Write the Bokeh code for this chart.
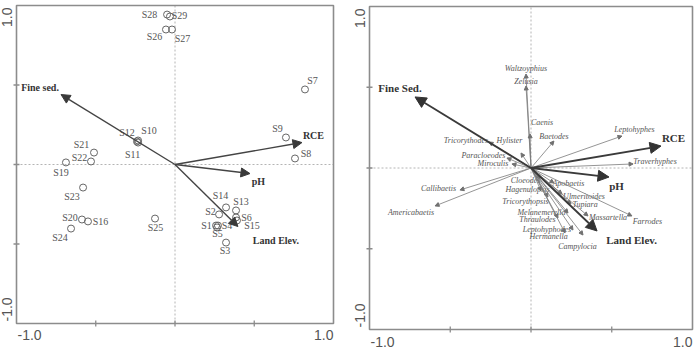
from bokeh.plotting import figure
from bokeh.layouts import row
from bokeh.models import Arrow, NormalHead, Label, ColumnDataSource
from bokeh.core.properties import value
from bokeh.embed import file_html
from bokeh.resources import INLINE

# ---------------- data: left panel (sites) ----------------
site_names = ["S1", "S2", "S3", "S4", "S5", "S6", "S7", "S8", "S9", "S10", "S11", "S12",
              "S13", "S14", "S15", "S16", "S19", "S20", "S21", "S22", "S23", "S24", "S25",
              "S26", "S27", "S28", "S29"]
site_x = [0.259, 0.278, 0.322, 0.271, 0.265, 0.385, 0.820, 0.757, 0.700, -0.233, -0.233, -0.240,
          0.385, 0.322, 0.391, -0.549, -0.688, -0.587, -0.511, -0.530, -0.580, -0.656, -0.126,
          -0.057, -0.019, -0.050, -0.032]
site_y = [-0.384, -0.314, -0.491, -0.384, -0.396, -0.333, 0.472, 0.038, 0.170, 0.151, 0.138, 0.145,
          -0.289, -0.270, -0.352, -0.358, 0.013, -0.346, 0.075, 0.019, -0.145, -0.403, -0.340,
          0.849, 0.849, 0.943, 0.931]

env_left_names = ["Fine sed.", "RCE", "pH", "Land Elev."]
env_left_x = [-0.719, 0.801, 0.473, 0.397]
env_left_y = [0.440, 0.138, -0.057, -0.390]

# ---------------- data: right panel (taxa) ----------------
env_right_names = ["Fine Sed.", "RCE", "pH", "Land Elev."]
env_right_x = [-0.718, 0.805, 0.483, 0.409]
env_right_y = [0.440, 0.136, -0.056, -0.390]

taxa_names = ["Waltzoyphius", "Zelusia", "Caenis", "Baetodes", "Leptohyphes", "Traverhyphes",
              "Tricorythodes", "Hylister", "Paracloeodes", "Miroculis", "Cloeodes", "Apobaetis",
              "Hagenulopsis", "Tricorythopsis", "Melanemerella", "Thraulodes", "Ulmeritoides",
              "Tupiara", "Massartella", "Farrodes", "Leptohyphodes", "Hermanella", "Campylocia",
              "Callibaetis", "Americabaetis"]
taxa_x = [-0.031, -0.031, -0.006, 0.142, 0.563, 0.632,
          -0.260, -0.062, -0.149, -0.118, 0.056, 0.142,
          0.062, 0.105, 0.229, 0.167, 0.192,
          0.248, 0.353, 0.625, 0.260, 0.211, 0.322,
          -0.440, -0.594]
taxa_y = [0.582, 0.508, 0.211, 0.167, 0.198, 0.025,
          0.161, 0.093, 0.062, 0.025, -0.068, -0.093,
          -0.142, -0.180, -0.279, -0.310, -0.161,
          -0.223, -0.297, -0.297, -0.384, -0.402, -0.415,
          -0.136, -0.235]

axis_min, axis_max = -1.0, 1.0
minor_ticks = [-0.5, 0.0, 0.5]
axis_end_labels = ["-1.0", "1.0"]

# ---------------- layout: label offsets in screen pixels (dx, dy down) ----------------
site_off = {"S1": (-9.5, 0), "S2": (-8.5, -3), "S3": (-1, 8), "S4": (9, 0), "S5": (0.5, 6),
            "S6": (10.5, 0), "S7": (7.5, -9), "S8": (11, -5), "S9": (-8.5, -9), "S10": (11, -10),
            "S11": (-5.5, 12), "S12": (-10, -9), "S13": (5, -9), "S14": (-5.5, -12), "S15": (15, 5),
            "S16": (12.5, 0), "S19": (-5, 10), "S20": (-12, -2), "S21": (-12.5, -8), "S22": (-11.5, -4),
            "S23": (-11, 9), "S24": (-11, 9), "S25": (0.5, 9), "S26": (-11.5, 7), "S27": (10.5, 9),
            "S28": (-17.5, 0), "S29": (9.5, -1)}
env_left_off = [(-21, -7), (11.5, -7), (8.5, 8), (38, 14)]
env_right_off = [(-15, -9), (12.5, -8), (7.5, 9), (34.5, 9)]
taxa_off = {"Waltzoyphius": (0, -6), "Zelusia": (0, -4), "Caenis": (12, -11), "Baetodes": (0, -5),
            "Leptohyphes": (12.5, -7), "Traverhyphes": (22, -2), "Tricorythodes": (-23, -1),
            "Hylister": (-11.5, -12), "Paracloeodes": (-23.5, -2), "Miroculis": (-19, 0),
            "Cloeodes": (-14.5, 2), "Apobaetis": (14.5, 0), "Hagenulopsis": (-13.5, -1),
            "Tricorythopsis": (-22.5, 4), "Melanemerella": (-26.5, -1), "Thraulodes": (-20.5, 1),
            "Ulmeritoides": (22, 2), "Tupiara": (14, 0), "Massartella": (20, 2), "Farrodes": (15.5, 6),
            "Leptohyphodes": (-26, -1), "Hermanella": (-16.5, 4), "Campylocia": (-5.5, 11),
            "Callibaetis": (-21.5, -1), "Americabaetis": (-24, 7)}

SERIF = value("Liberation Serif")
SANS = "Liberation Sans"
FRAME = "#8c8c8c"


def base_fig(w, h, ml, mr, mt, mb):
    # the frame (-1..1) sits inside the canvas with the given pixel margins
    sx = (w - ml - mr) / 2.0
    sy = (h - mt - mb) / 2.0
    xr = (axis_min - ml / sx, axis_max + mr / sx)
    yr = (axis_min - mb / sy, axis_max + mt / sy)
    p = figure(width=w, height=h, x_range=xr, y_range=yr,
               output_backend="svg", toolbar_location=None, min_border=0)
    p.axis.visible = False
    p.grid.visible = False
    p.outline_line_color = None
    p.background_fill_color = "white"
    p.border_fill_color = "white"
    # dashed centre lines
    p.segment(x0=[axis_min, 0], y0=[0, axis_min], x1=[axis_max, 0], y1=[0, axis_max],
              line_color="#b4b4b4", line_dash="2 2", line_width=1)
    # frame
    p.quad(left=[axis_min], right=[axis_max], bottom=[axis_min], top=[axis_max],
           fill_color=None, line_color=FRAME, line_width=1.6)
    # tick marks on bottom and left
    p.scatter(x=minor_ticks, y=[axis_min] * len(minor_ticks), marker="dash", angle=90,
              angle_units="deg", size=6, line_color=FRAME, line_width=1.3)
    p.scatter(x=[axis_min] * len(minor_ticks), y=minor_ticks, marker="dash",
              size=6, line_color=FRAME, line_width=1.3)
    return p


def end_labels(p, size, yoff_x, yoff_top, yoff_bot, xoff_down):
    kw = dict(text_font=SANS, text_font_size=size, text_color="#555555")
    p.add_layout(Label(x=axis_min, y=axis_max, text=axis_end_labels[1], angle=90, angle_units="deg",
                       text_align="right", text_baseline="alphabetic",
                       x_offset=yoff_x, y_offset=yoff_top, **kw))
    p.add_layout(Label(x=axis_min, y=axis_min, text=axis_end_labels[0], angle=90, angle_units="deg",
                       text_align="left", text_baseline="alphabetic",
                       x_offset=yoff_x, y_offset=yoff_bot, **kw))
    p.add_layout(Label(x=axis_min, y=axis_min, text=axis_end_labels[0], text_align="left",
                       text_baseline="top", x_offset=1, y_offset=xoff_down, **kw))
    p.add_layout(Label(x=axis_max, y=axis_min, text=axis_end_labels[1], text_align="right",
                       text_baseline="top", x_offset=0, y_offset=xoff_down, **kw))


# ================= left panel =================
p1 = base_fig(350, 349, 16, 17, 5, 26)

env_src1 = ColumnDataSource(dict(x=env_left_x, y=env_left_y, name=env_left_names,
                                 dx=[o[0] for o in env_left_off], dy=[o[1] for o in env_left_off]))
p1.add_layout(Arrow(end=NormalHead(size=9, fill_color="#3a3a3a", line_color="#3a3a3a"),
                    x_start=0, y_start=0, x_end="x", y_end="y", source=env_src1,
                    line_color="#444444", line_width=1.4))
p1.text(x="x", y="y", text="name", x_offset="dx", y_offset="dy", source=env_src1,
        text_align="center", text_baseline="middle", text_font=SERIF, text_font_style="bold",
        text_font_size="10px", text_color="#333333")

site_src = ColumnDataSource(dict(x=site_x, y=site_y, name=site_names,
                                 dx=[site_off[n][0] for n in site_names],
                                 dy=[site_off[n][1] for n in site_names]))
p1.scatter(x="x", y="y", source=site_src, size=7, marker="circle",
           fill_color=None, line_color="#666666", line_width=1)
p1.text(x="x", y="y", text="name", x_offset="dx", y_offset="dy", source=site_src,
        text_align="center", text_baseline="middle", text_font=SERIF,
        text_font_size="10px", text_color="#555555")
end_labels(p1, "14px", -10, -2, 2, -6)

# ================= right panel =================
p2 = base_fig(346, 349, 19, 4, 6, 20)

taxa_src = ColumnDataSource(dict(x=taxa_x, y=taxa_y, name=taxa_names,
                                 dx=[taxa_off[n][0] for n in taxa_names],
                                 dy=[taxa_off[n][1] for n in taxa_names]))
p2.add_layout(Arrow(end=NormalHead(size=4, fill_color="#707070", line_color="#707070"),
                    x_start=0, y_start=0, x_end="x", y_end="y", source=taxa_src,
                    line_color="#7a7a7a", line_width=0.8))
p2.text(x="x", y="y", text="name", x_offset="dx", y_offset="dy", source=taxa_src,
        text_align="center", text_baseline="middle", text_font=SERIF, text_font_style="italic",
        text_font_size="8px", text_color="#555555")

env_src2 = ColumnDataSource(dict(x=env_right_x, y=env_right_y, name=env_right_names,
                                 dx=[o[0] for o in env_right_off], dy=[o[1] for o in env_right_off]))
p2.add_layout(Arrow(end=NormalHead(size=11, fill_color="#333333", line_color="#333333"),
                    x_start=0, y_start=0, x_end="x", y_end="y", source=env_src2,
                    line_color="#3a3a3a", line_width=1.8))
p2.text(x="x", y="y", text="name", x_offset="dx", y_offset="dy", source=env_src2,
        text_align="center", text_baseline="middle", text_font=SERIF, text_font_style="bold",
        text_font_size="11px", text_color="#333333")
end_labels(p2, "14px", -10, -2, 2, -7)

layout = row(p1, p2)
open("out.html", "w").write(file_html(layout, INLINE))
